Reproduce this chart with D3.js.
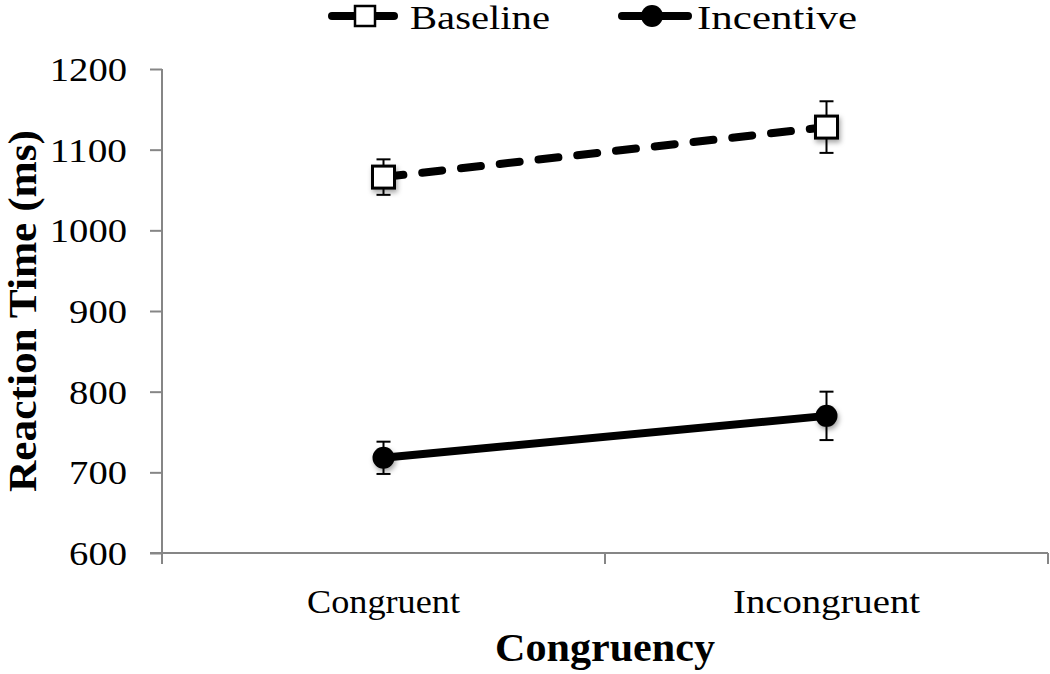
<!DOCTYPE html>
<html>
<head>
<meta charset="utf-8">
<script src="https://cdn.jsdelivr.net/npm/d3@7"></script>
<style>
  html, body { margin: 0; padding: 0; background: #fff; }
  svg { display: block; }
  text { font-family: "Liberation Serif", "DejaVu Serif", serif; fill: #000; }
</style>
</head>
<body>
<svg id="chart" width="1050" height="674"></svg>
<script>
const categories = ["Congruent", "Incongruent"];
const baselineValues = [1066, 1128];
const baselineErrors = [22, 32];
const incentiveValues = [718, 770];
const incentiveErrors = [20, 30];
const yTicks = [600, 700, 800, 900, 1000, 1100, 1200];
const seriesNames = ["Baseline", "Incentive"];

(function () {
const svg = d3.select("#chart");
const mLeft = 162, mRight = 1048, mTop = 69, mBottom = 553;

const x = d3.scaleBand().domain(categories).range([mLeft, mRight]).padding(0);
const y = d3.scaleLinear().domain([600, 1200]).range([mBottom, mTop]);

const defs = svg.append("defs");
const f = defs.append("filter").attr("id", "shadow").attr("x", "-50%").attr("y", "-50%").attr("width", "200%").attr("height", "200%");
f.append("feDropShadow").attr("dx", 1.5).attr("dy", 3).attr("stdDeviation", 2.5).attr("flood-color", "#000").attr("flood-opacity", 0.35);

// Y axis
const yAxis = svg.append("g").attr("transform", `translate(${mLeft},0)`)
  .call(d3.axisLeft(y).tickValues(yTicks).tickSize(12).tickPadding(23).tickFormat(d3.format("d")));
yAxis.select(".domain").attr("stroke", "#868686").attr("stroke-width", 2).attr("d", `M0,${mTop}V${mBottom + 10}`);
yAxis.selectAll(".tick line").attr("stroke", "#868686").attr("stroke-width", 2);
yAxis.selectAll(".tick text").style("font-size", "34px").style("font-family", "Liberation Serif")
  .attr("dy", "0.34em")
  .attr("textLength", d => String(d).length * 19.3).attr("lengthAdjust", "spacingAndGlyphs");

// X axis
const xAxis = svg.append("g").attr("transform", `translate(0,${mBottom})`)
  .call(d3.axisBottom(x).tickSize(0).tickPadding(36));
xAxis.select(".domain").attr("stroke", "#868686").attr("stroke-width", 2).attr("d", `M${mLeft - 12},0H${mRight}`);
xAxis.selectAll(".tick text").style("font-size", "34px").style("font-family", "Liberation Serif")
  .attr("textLength", d => d.length * 17).attr("lengthAdjust", "spacingAndGlyphs");
const bounds = [mLeft, mLeft + x.bandwidth(), mRight];
xAxis.selectAll(".bnd").data(bounds).enter().append("line")
  .attr("x1", d => d).attr("x2", d => d).attr("y1", 0).attr("y2", 11)
  .attr("stroke", "#868686").attr("stroke-width", 2);

// Axis titles
svg.append("text")
  .attr("transform", `translate(36,${(mTop + mBottom) / 2}) rotate(-90)`)
  .attr("text-anchor", "middle")
  .style("font-size", "40px").style("font-weight", "bold")
  .attr("textLength", 362).attr("lengthAdjust", "spacingAndGlyphs")
  .text("Reaction Time (ms)");
svg.append("text")
  .attr("x", (mLeft + mRight) / 2).attr("y", 661)
  .attr("text-anchor", "middle")
  .style("font-size", "40px").style("font-weight", "bold")
  .attr("textLength", 220).attr("lengthAdjust", "spacingAndGlyphs")
  .text("Congruency");

const cx = d => x(d) + x.bandwidth() / 2;
const line = d3.line().x(d => cx(d.c)).y(d => y(d.v));

const baseData = categories.map((c, i) => ({ c, v: baselineValues[i], e: baselineErrors[i] }));
const incData = categories.map((c, i) => ({ c, v: incentiveValues[i], e: incentiveErrors[i] }));

function errorBars(data) {
  const g = svg.append("g");
  data.forEach(d => {
    const xx = cx(d.c);
    g.append("line").attr("x1", xx).attr("x2", xx).attr("y1", y(d.v + d.e)).attr("y2", y(d.v - d.e)).attr("stroke", "#000").attr("stroke-width", 2);
    [d.v + d.e, d.v - d.e].forEach(v => {
      g.append("line").attr("x1", xx - 7).attr("x2", xx + 7).attr("y1", y(v)).attr("y2", y(v)).attr("stroke", "#000").attr("stroke-width", 2);
    });
  });
}
errorBars(baseData);
errorBars(incData);

svg.append("path").datum(baseData).attr("d", line).attr("fill", "none")
  .attr("stroke", "#000").attr("stroke-width", 8).attr("stroke-linecap", "round")
  .attr("stroke-dasharray", "20,19");
svg.append("path").datum(incData).attr("d", line).attr("fill", "none")
  .attr("stroke", "#000").attr("stroke-width", 8);

const sq = 22;
svg.append("g").selectAll("rect").data(baseData).enter().append("rect")
  .attr("x", d => cx(d.c) - sq / 2).attr("y", d => y(d.v) - sq / 2)
  .attr("width", sq).attr("height", sq)
  .attr("fill", "#fff").attr("stroke", "#000").attr("stroke-width", 3)
  .attr("filter", "url(#shadow)");
svg.append("g").selectAll("circle").data(incData).enter().append("circle")
  .attr("cx", d => cx(d.c)).attr("cy", d => y(d.v)).attr("r", 11)
  .attr("fill", "#000").attr("filter", "url(#shadow)");

// Legend
const leg = svg.append("g");
const ly = 16;
leg.append("line").attr("x1", 332).attr("x2", 394).attr("y1", ly).attr("y2", ly)
  .attr("stroke", "#000").attr("stroke-width", 8).attr("stroke-linecap", "round");
leg.append("rect").attr("x", 365 - 10).attr("y", ly - 10).attr("width", 20).attr("height", 20)
  .attr("fill", "#fff").attr("stroke", "#000").attr("stroke-width", 2.5);
leg.append("text").attr("x", 410).attr("y", 29).style("font-size", "34px")
  .attr("textLength", 140).attr("lengthAdjust", "spacingAndGlyphs").text(seriesNames[0]);
leg.append("line").attr("x1", 622).attr("x2", 688).attr("y1", ly).attr("y2", ly)
  .attr("stroke", "#000").attr("stroke-width", 8).attr("stroke-linecap", "round");
leg.append("circle").attr("cx", 652).attr("cy", ly).attr("r", 11).attr("fill", "#000");
leg.append("text").attr("x", 697).attr("y", 29).style("font-size", "34px")
  .attr("textLength", 160).attr("lengthAdjust", "spacingAndGlyphs").text(seriesNames[1]);
})();
</script>
</body>
</html>
